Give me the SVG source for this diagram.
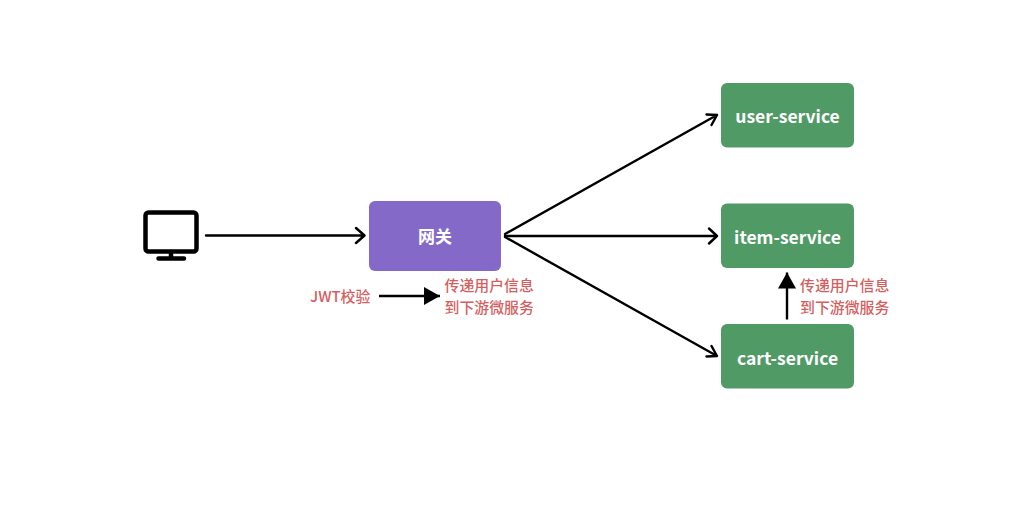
<svg xmlns="http://www.w3.org/2000/svg" width="1026" height="520" viewBox="0 0 1026 520">
<style>
.svc{fill:#509a65}
.gw{fill:#8569c8}
.t{font-family:"Noto Sans CJK SC","Noto Sans",sans-serif;font-weight:700;font-size:17.500px;fill:#fff;text-anchor:middle}
.r{font-family:"Noto Sans CJK SC","Noto Sans",sans-serif;font-weight:500;font-size:14.900px;fill:#d45f5f}
.c{fill:none;stroke:#000;stroke-width:2.400;stroke-linecap:round;stroke-linejoin:round}
.o{fill:none;stroke:#000;stroke-width:4.500;stroke-linecap:round;stroke-linejoin:round}
</style>
<defs>
<marker id="solid" markerUnits="userSpaceOnUse" markerWidth="18" markerHeight="20" refX="16" refY="9" orient="auto"><path d="M0 0L16 9L0 18Z" fill="#000"/></marker>
</defs>
<rect width="1026" height="520" fill="#fff"/>
<g id="connectors">
<path class="c" d="M206 235.500H364M356 228L364.500 235.500L356 243"/>
<path class="c" d="M505 234L717 115M706.500 114.500L717 115L711.500 125"/>
<path class="c" d="M505 236H717M709 228.500L717 236L709 243.500"/>
<path class="c" d="M505 237L717 356M711.500 346L717 356L706.500 356.500"/>
<line x1="379" y1="296" x2="440" y2="296" stroke="#000" stroke-width="2.400" marker-end="url(#solid)"/>
<line x1="787" y1="319.500" x2="787" y2="272.500" stroke="#000" stroke-width="2.400" marker-end="url(#solid)"/>
</g>
<g id="client">
<rect class="o" x="145.500" y="212.500" width="51" height="39" rx="3"/>
<path class="o" d="M171 252V258.500M158.500 258.500H184"/>
</g>
<g id="gateway"><rect class="gw" x="369" y="201" width="132" height="70" rx="6"/><text class="t" x="435" y="243" style="font-size:17px">网关</text></g>
<g id="user-service"><rect class="svc" x="721" y="83" width="133" height="64.500" rx="6"/><text class="t" x="787.500" y="122.500">user-service</text></g>
<g id="item-service"><rect class="svc" x="721" y="203.500" width="133" height="64.500" rx="6"/><text class="t" x="787.500" y="243.500">item-service</text></g>
<g id="cart-service"><rect class="svc" x="721" y="324" width="133" height="64.500" rx="6"/><text class="t" x="787.500" y="364.500">cart-service</text></g>
<g id="labels">
<text class="r" x="310" y="302">JWT校验</text>
<text class="r" x="444.500" y="291">传递用户信息</text>
<text class="r" x="444.500" y="313">到下游微服务</text>
<text class="r" x="800" y="291">传递用户信息</text>
<text class="r" x="800" y="313">到下游微服务</text>
</g>
</svg>
